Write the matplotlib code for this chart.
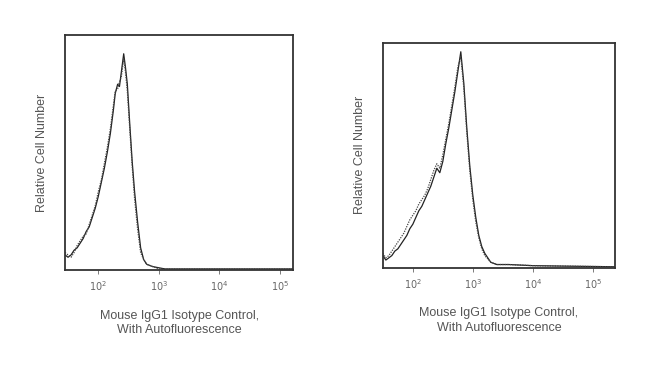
import numpy as np
import matplotlib
matplotlib.use("Agg")
import matplotlib.pyplot as plt

plt.rcParams['font.family'] = ['Liberation Sans', 'DejaVu Sans']

# left panel: log10 intensity vs relative count
left_x = [1.45, 1.5, 1.55, 1.6, 1.65, 1.7, 1.75, 1.8, 1.85, 1.9, 1.95, 2.0, 2.05, 2.1,
          2.15, 2.2, 2.25, 2.28, 2.32, 2.35, 2.38, 2.42, 2.45, 2.48, 2.52, 2.56, 2.6,
          2.65, 2.7, 2.75, 2.8, 2.9, 3.0, 3.1, 5.22]
left_solid = [0.06, 0.05, 0.06, 0.08, 0.09, 0.11, 0.13, 0.16, 0.18, 0.22, 0.26, 0.31, 0.37, 0.43,
              0.50, 0.58, 0.68, 0.75, 0.79, 0.78, 0.84, 0.92, 0.86, 0.79, 0.62, 0.46, 0.33,
              0.20, 0.09, 0.04, 0.02, 0.01, 0.005, 0.0, 0.0]
left_dot = [0.07, 0.06, 0.05, 0.07, 0.10, 0.12, 0.14, 0.15, 0.19, 0.23, 0.27, 0.33, 0.38, 0.45,
            0.52, 0.60, 0.70, 0.76, 0.77, 0.80, 0.82, 0.90, 0.84, 0.76, 0.60, 0.44, 0.30,
            0.17, 0.07, 0.04, 0.02, 0.01, 0.0, 0.0, 0.0]

# right panel
right_x = [1.5, 1.55, 1.6, 1.65, 1.7, 1.75, 1.8, 1.85, 1.9, 1.95, 2.0, 2.05, 2.1, 2.15,
           2.2, 2.25, 2.3, 2.35, 2.4, 2.45, 2.5, 2.55, 2.6, 2.65, 2.7, 2.75, 2.8, 2.85,
           2.9, 2.95, 3.0, 3.05, 3.1, 3.15, 3.2, 3.3, 3.4, 3.6, 4.0, 4.5, 5.37]
right_solid = [0.05, 0.03, 0.04, 0.05, 0.07, 0.08, 0.10, 0.12, 0.14, 0.17, 0.19, 0.22, 0.25, 0.27,
               0.30, 0.33, 0.36, 0.40, 0.44, 0.42, 0.47, 0.55, 0.62, 0.70, 0.78, 0.87, 0.96, 0.82,
               0.62, 0.45, 0.32, 0.22, 0.14, 0.09, 0.06, 0.02, 0.01, 0.01, 0.005, 0.003, 0.0]
right_dot = [0.06, 0.04, 0.05, 0.07, 0.09, 0.11, 0.13, 0.15, 0.18, 0.21, 0.23, 0.25, 0.28, 0.30,
             0.32, 0.35, 0.39, 0.43, 0.46, 0.44, 0.50, 0.57, 0.64, 0.72, 0.80, 0.89, 0.94, 0.80,
             0.60, 0.43, 0.30, 0.20, 0.13, 0.08, 0.05, 0.02, 0.01, 0.01, 0.005, 0.003, 0.0]

tick_pos = [2, 3, 4, 5]
tick_labels = [r'$10^2$', r'$10^3$', r'$10^4$', r'$10^5$']
xlabel = 'Mouse IgG1 Isotype Control,\nWith Autofluorescence'
ylabel = 'Relative Cell Number'

fig = plt.figure(figsize=(6.5, 3.69), dpi=100)
ax1 = fig.add_axes([0.100, 0.268, 0.351, 0.637])
ax2 = fig.add_axes([0.589, 0.274, 0.357, 0.610])

panels = [(ax1, left_x, left_solid, left_dot, (1.45, 5.22)),
          (ax2, right_x, right_solid, right_dot, (1.5, 5.37))]

for ax, x, s, d, xl in panels:
    xs = np.power(10.0, x)
    ax.plot(xs, s, color='#222222', lw=0.9)
    ax.plot(xs, d, color='#444444', lw=0.9, ls=(0, (1, 1)))
    ax.set_xscale('log')
    ax.set_xlim(10 ** xl[0], 10 ** xl[1])
    ax.set_ylim(-0.005, 1.0)
    ax.set_xticks([10.0 ** p for p in tick_pos])
    ax.set_xticklabels(tick_labels)
    ax.xaxis.set_minor_locator(matplotlib.ticker.NullLocator())
    ax.set_yticks([])
    ax.tick_params(axis='x', direction='out', length=3, width=0.6,
                   labelsize=7, labelcolor='#666666', color='#666666')
    for sp in ax.spines.values():
        sp.set_linewidth(1.3)
        sp.set_color('#333333')
    ax.set_xlabel(xlabel, fontsize=9, color='#555555', labelpad=12, linespacing=1.3)
    ax.set_ylabel(ylabel, fontsize=9, color='#555555', labelpad=12)

fig.savefig('out.png', dpi=100)
